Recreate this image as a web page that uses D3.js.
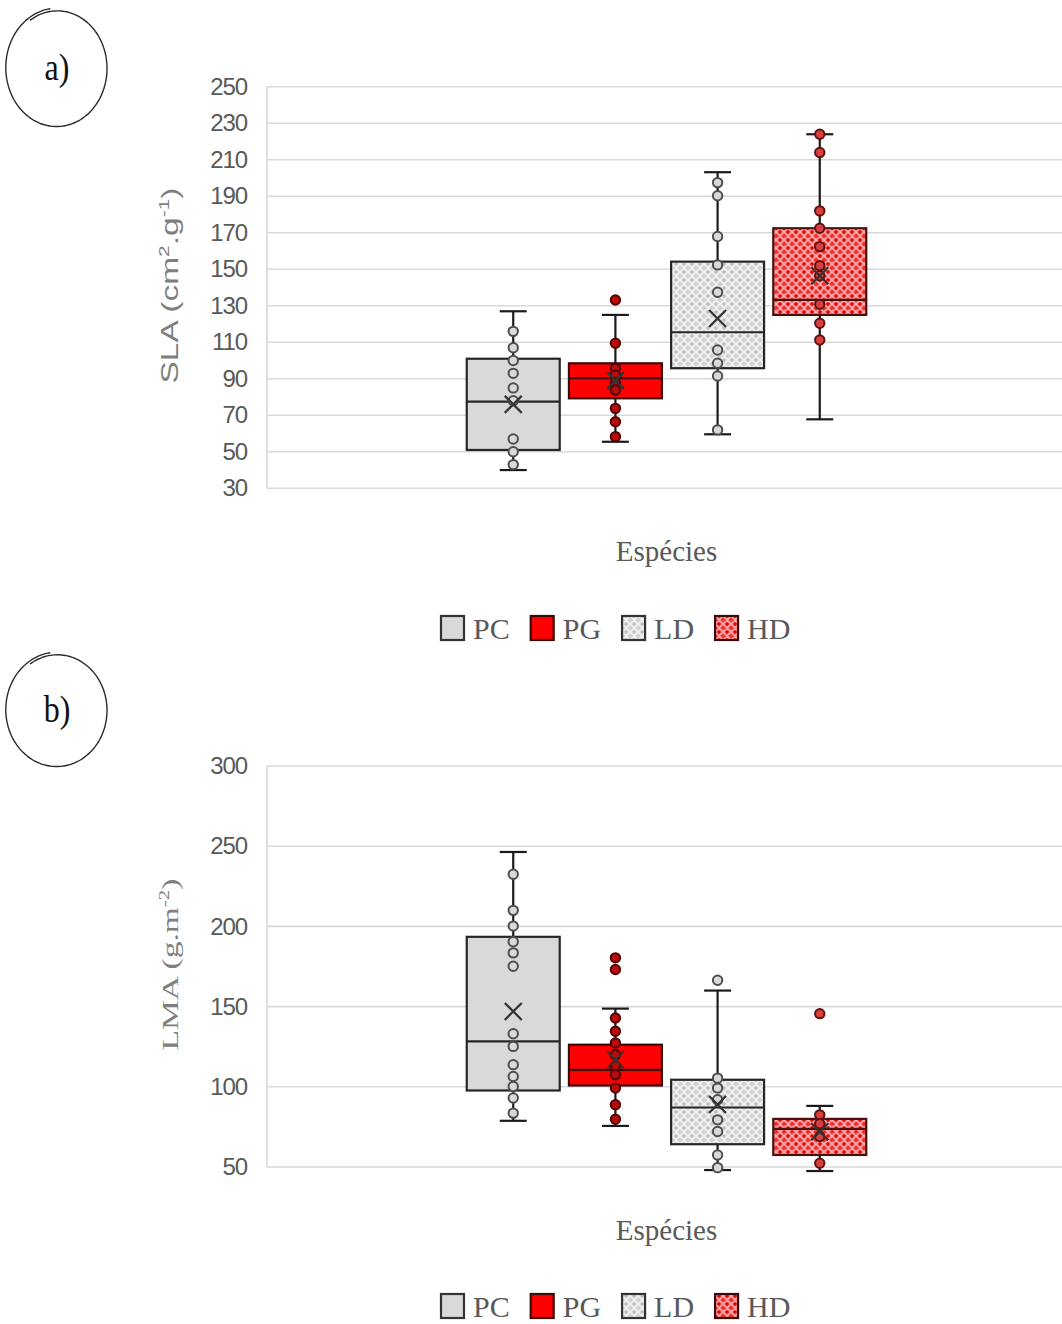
<!DOCTYPE html>
<html>
<head>
<meta charset="utf-8">
<script src="https://cdn.jsdelivr.net/npm/d3@7"></script>
<style>
  body { margin: 0; background: #fff; }
  svg { display: block; }
</style>
</head>
<body>
<script>
// ---- data -------------------------------------------------------------
const series = ["PC", "PG", "LD", "HD"];
const categoryLabel = "Espécies";

// a) SLA (cm².g⁻¹)
const slaTicks = [30, 50, 70, 90, 110, 130, 150, 170, 190, 210, 230, 250];
const slaWhiskerLow  = [40, 55.5, 59.6, 67.8];
const slaQ1          = [51, 79.3, 95.8, 125];
const slaMedian      = [77.5, 90.3, 115.5, 133.2];
const slaQ3          = [101, 98.5, 154.2, 172.5];
const slaWhiskerHigh = [127, 125, 203.2, 224];
const slaMean        = [76, 89, 123, 146.5];
const slaPoints = [
  [116, 107, 100, 93, 85, 78, 57, 50, 43],
  [109.5, 95.8, 92, 88, 83.9, 73.8, 66.5, 58.3],
  [197.5, 190.3, 168, 152.4, 137.4, 105.8, 98.5, 91.5, 62],
  [224, 214, 182, 172.5, 162.4, 152, 146.5, 130.8, 120.4, 111.3]
];
const slaOutliers = [[], [133.2], [], []];

// b) LMA (g.m⁻²)
const lmaTicks = [50, 100, 150, 200, 250, 300];
const lmaWhiskerLow  = [78.8, 75.6, 48.1, 47.5];
const lmaQ1          = [97.7, 100.8, 64.2, 57.5];
const lmaMedian      = [128.3, 110.6, 87.1, 73.75];
const lmaQ3          = [193.5, 126.25, 104.4, 80];
const lmaWhiskerHigh = [246.4, 148.75, 160, 88.1];
const lmaMean        = [147, 116.9, 89, 72];
const lmaPoints = [
  [232.5, 210, 200.2, 190.4, 183.5, 175.2, 133.1, 125.2, 113.8, 106.4, 100.2, 93, 83.6],
  [142.9, 134.6, 127.3, 120, 113, 107.5, 99.2, 88.8, 79.8],
  [105.4, 99.2, 91.9, 79.4, 72.1, 57.5, 49.6],
  [82.5, 77, 69, 52.3]
];
const lmaOutliers = [[], [180.4, 173.1], [166.4], [145.6]];

// ---- styles -----------------------------------------------------------
const style = {
  PC: { fill: "#d9d9d9", stroke: "#262626", ptFill: "#d9d9d9", ptStroke: "#4d4d4d" },
  PG: { fill: "#ff0000", stroke: "#3a0a0a", ptFill: "#b80c0c", ptStroke: "#500000" },
  LD: { fill: "url(#patLD)", stroke: "#262626", ptFill: "#d9d9d9", ptStroke: "#4d4d4d" },
  HD: { fill: "url(#patHD)", stroke: "#4a1010", ptFill: "#d84040", ptStroke: "#601010" }
};

const W = 1062, H = 1324;
const svg = d3.select("body").append("svg").attr("width", W).attr("height", H);

// ---- fill patterns ----------------------------------------------------
const defs = svg.append("defs");
function lattice(id, base, line, dot) {
  const p = defs.append("pattern").attr("id", id)
    .attr("patternUnits", "userSpaceOnUse").attr("width", 8).attr("height", 8);
  p.append("rect").attr("width", 8).attr("height", 8).attr("fill", base);
  p.append("path").attr("d", "M0,0L8,8M8,0L0,8M-1,7L1,9M7,-1L9,1")
    .attr("stroke", line).attr("stroke-width", 1.5);
  p.append("circle").attr("cx", 4).attr("cy", 0).attr("r", 1.2).attr("fill", dot);
  p.append("circle").attr("cx", 4).attr("cy", 8).attr("r", 1.2).attr("fill", dot);
}
lattice("patLD", "#d2d2d2", "#f4f4f4", "#bdbdbd");
lattice("patHD", "#f03434", "#ffb8b8", "#c81010");

// ---- hand-drawn panel label ------------------------------------------
function panelLabel(cx, cy, rx, ry, label) {
  const n = 140, start = -2.15, sweep = 2 * Math.PI + 0.45;
  const pts = d3.range(n + 1).map(i => {
    const t = i / n, a = start + t * sweep, k = 0.965 + 0.05 * t;
    return [cx + rx * k * Math.cos(a), cy + ry * k * Math.sin(a)];
  });
  svg.append("path").attr("d", d3.line().curve(d3.curveBasis)(pts))
    .attr("fill", "none").attr("stroke", "#2b2b2b").attr("stroke-width", 1.4);
  svg.append("text")
    .attr("transform", `translate(${cx},${cy + 12}) scale(1,1.2)`)
    .attr("text-anchor", "middle")
    .attr("font-family", "Liberation Serif, Times New Roman, serif")
    .attr("font-size", 32).attr("fill", "#111")
    .text(label);
}

// ---- one box-plot panel ----------------------------------------------
function drawPanel(cfg) {
  const { ticks, lo, q1, med, q3, hi, mean, points, outliers,
          top, bottom, title, titleFont, titleLen, legendY } = cfg;
  const left = 267, right = 1066;

  const y = d3.scaleLinear().domain(d3.extent(ticks)).range([bottom, top]);
  const xCat = d3.scaleBand().domain([categoryLabel]).range([left, right])
    .paddingInner(0).paddingOuter(0.5);
  const xSer = d3.scaleBand().domain(series)
    .range([xCat(categoryLabel), xCat(categoryLabel) + xCat.bandwidth()])
    .paddingInner(0.09);

  const g = svg.append("g");

  // gridlines
  g.append("g").selectAll("line").data(ticks).join("line")
    .attr("x1", left).attr("x2", W)
    .attr("y1", d => y(d)).attr("y2", d => y(d))
    .attr("stroke", "#d9d9d9").attr("stroke-width", 1.6);
  g.append("line").attr("x1", left).attr("x2", left)
    .attr("y1", y(ticks[0])).attr("y2", y(ticks[ticks.length - 1]))
    .attr("stroke", "#d9d9d9").attr("stroke-width", 1.6);

  // tick labels
  const yAxis = d3.axisLeft(y).tickValues(ticks).tickSize(0).tickPadding(20);
  const ax = g.append("g").attr("transform", `translate(${left},0)`).call(yAxis);
  ax.select(".domain").remove();
  ax.selectAll("text")
    .attr("font-family", "Liberation Sans, Arial, sans-serif")
    .attr("font-size", 24).attr("letter-spacing", -1.1)
    .attr("fill", "#595959");

  // axis title
  g.append("text")
    .attr("transform", `translate(170,${(top + bottom) / 2 - 2}) rotate(-90)`)
    .attr("text-anchor", "middle").attr("dy", "0.35em")
    .attr("font-family", titleFont).attr("font-size", 24).attr("fill", "#7f7f7f")
    .attr("textLength", titleLen).attr("lengthAdjust", "spacingAndGlyphs")
    .call(t => title(t));

  // category label
  g.append("text")
    .attr("x", xCat(categoryLabel) + xCat.bandwidth() / 2).attr("y", bottom + 73)
    .attr("text-anchor", "middle")
    .attr("font-family", "Liberation Serif, Times New Roman, serif")
    .attr("font-size", 29).attr("fill", "#595959")
    .text(categoryLabel);

  const bw = xSer.bandwidth();
  const cap = bw * 0.29;

  series.forEach((s, i) => {
    const st = style[s];
    const cx = xSer(s) + bw / 2;
    const gs = g.append("g");

    // whiskers
    gs.append("line").attr("x1", cx).attr("x2", cx).attr("y1", y(hi[i])).attr("y2", y(q3[i]))
      .attr("stroke", "#1a1a1a").attr("stroke-width", 2.2);
    gs.append("line").attr("x1", cx).attr("x2", cx).attr("y1", y(q1[i])).attr("y2", y(lo[i]))
      .attr("stroke", "#1a1a1a").attr("stroke-width", 2.2);
    [hi[i], lo[i]].forEach(v => {
      gs.append("line").attr("x1", cx - cap / 2).attr("x2", cx + cap / 2)
        .attr("y1", y(v)).attr("y2", y(v))
        .attr("stroke", "#1a1a1a").attr("stroke-width", 2.2);
    });

    // box
    gs.append("rect").attr("x", xSer(s)).attr("width", bw)
      .attr("y", y(q3[i])).attr("height", y(q1[i]) - y(q3[i]))
      .attr("fill", st.fill).attr("stroke", st.stroke).attr("stroke-width", 2.2);
    gs.append("line").attr("x1", xSer(s)).attr("x2", xSer(s) + bw)
      .attr("y1", y(med[i])).attr("y2", y(med[i]))
      .attr("stroke", st.stroke).attr("stroke-width", 2.2);

    // inner points and outliers
    gs.selectAll("circle.pt").data(points[i].concat(outliers[i])).join("circle")
      .attr("class", "pt")
      .attr("cx", cx).attr("cy", d => y(d)).attr("r", 4.7)
      .attr("fill", st.ptFill).attr("stroke", st.ptStroke).attr("stroke-width", 2);

    // mean marker
    const m = 8.5, my = y(mean[i]);
    gs.append("path")
      .attr("d", `M${cx - m},${my - m}L${cx + m},${my + m}M${cx + m},${my - m}L${cx - m},${my + m}`)
      .attr("stroke", "#333").attr("stroke-width", 2.2).attr("fill", "none");
  });

  // legend
  const lg = g.append("g");
  const items = lg.selectAll("g").data(series).join("g");
  items.append("rect").attr("width", 23).attr("height", 24).attr("y", legendY - 23)
    .attr("fill", d => style[d].fill)
    .attr("stroke", d => (d === "PG" || d === "HD") ? "#3a0a0a" : "#333")
    .attr("stroke-width", 2.2);
  items.append("text").attr("x", 32).attr("y", legendY)
    .attr("font-family", "Liberation Serif, Times New Roman, serif")
    .attr("font-size", 30).attr("fill", "#595959")
    .text(d => d);
  let xPos = 441;
  items.each(function () {
    d3.select(this).attr("transform", `translate(${xPos},0)`);
    xPos += this.getBBox().width + 21;
  });
}

panelLabel(57, 68, 51, 59, "a)");
panelLabel(57, 710, 51, 57, "b)");

drawPanel({
  ticks: slaTicks, lo: slaWhiskerLow, q1: slaQ1, med: slaMedian, q3: slaQ3,
  hi: slaWhiskerHigh, mean: slaMean, points: slaPoints, outliers: slaOutliers,
  top: 86.8, bottom: 488.3, legendY: 639,
  titleFont: "Liberation Sans, Arial, sans-serif", titleLen: 196,
  title: t => {
    t.append("tspan").text("SLA  (cm");
    t.append("tspan").attr("font-size", 15).attr("dy", -9).text("2");
    t.append("tspan").attr("dy", 9).text(".g");
    t.append("tspan").attr("font-size", 15).attr("dy", -9).text("-1");
    t.append("tspan").attr("dy", 9).text(")");
  }
});

drawPanel({
  ticks: lmaTicks, lo: lmaWhiskerLow, q1: lmaQ1, med: lmaMedian, q3: lmaQ3,
  hi: lmaWhiskerHigh, mean: lmaMean, points: lmaPoints, outliers: lmaOutliers,
  top: 766, bottom: 1167, legendY: 1317,
  titleFont: "Liberation Serif, Times New Roman, serif", titleLen: 172,
  title: t => {
    t.append("tspan").text("LMA (g.m");
    t.append("tspan").attr("font-size", 15).attr("dy", -9).text("-2");
    t.append("tspan").attr("dy", 9).text(")");
  }
});
</script>
</body>
</html>
